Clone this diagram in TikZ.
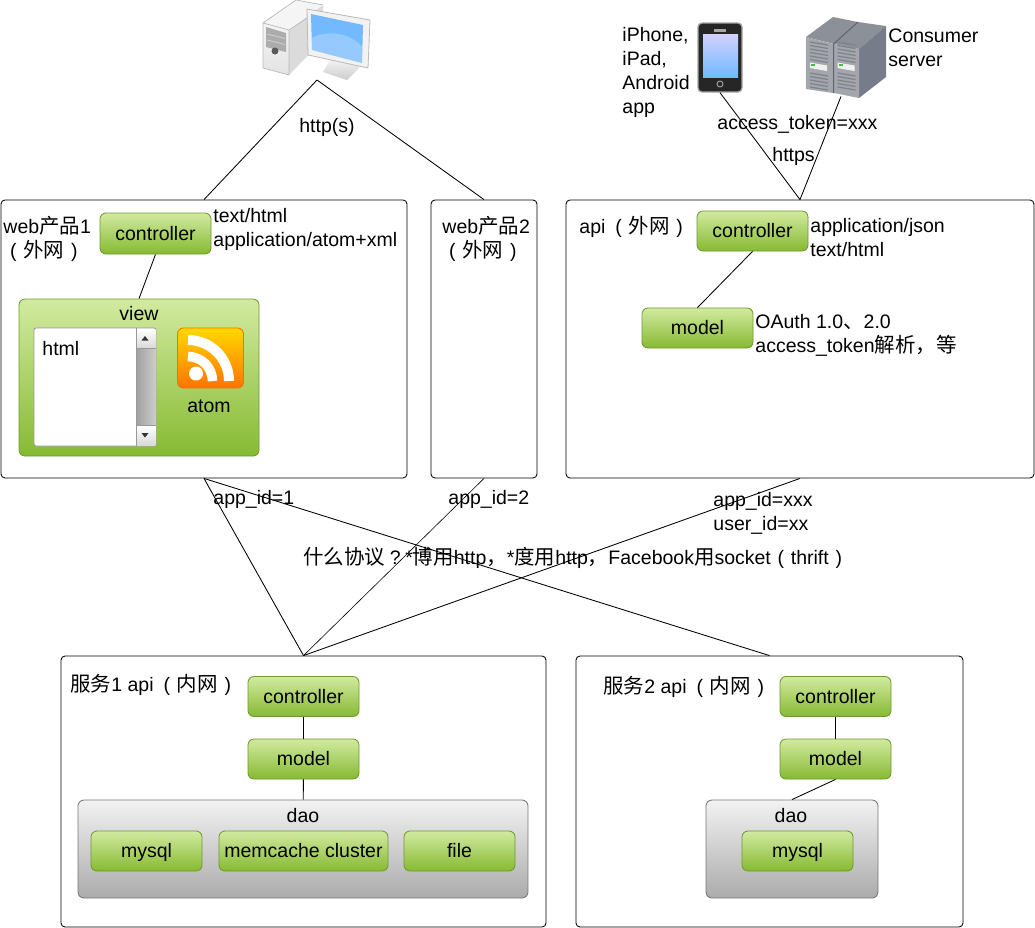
\documentclass[tikz,border=0pt]{standalone}
\usepackage{fontspec}
\setmainfont{Liberation Sans}
\newfontfamily\cjk[Scale=1.05]{Noto Sans CJK SC}
\usepackage{tikz}
\usetikzlibrary{positioning}
\definecolor{greenline}{HTML}{6F9A2E}
\definecolor{greentop}{HTML}{D2EAA0}
\definecolor{greenbot}{HTML}{86BA32}
\definecolor{grayline}{HTML}{777777}
\definecolor{graytop}{HTML}{F2F2F2}
\definecolor{graybot}{HTML}{ABABAB}
\definecolor{rackfront}{HTML}{A3A7AC}
\definecolor{racktop}{HTML}{8B9099}
\definecolor{rackside}{HTML}{767C8A}
\definecolor{rackslat}{HTML}{7D828C}
\newcommand{\lp}{\makebox[20pt][c]{(}}
\newcommand{\rp}{\makebox[20pt][c]{)}}

\begin{document}
\begin{tikzpicture}[x=1pt,y=-1pt,line width=.85pt,
    every node/.style={font=\fontsize{19.5}{24}\selectfont,inner sep=0pt},
    zone/.style={draw,rounded corners=4pt,anchor=center},
    greenbox/.style={draw=greenline,rounded corners=6pt,top color=greentop,bottom color=greenbot,minimum width=111pt,minimum height=40pt,text height=15pt,text depth=2pt},
    daobox/.style={draw=grayline,rounded corners=6pt,top color=graytop,bottom color=graybot,minimum height=98pt},
    lbl/.style={anchor=west,align=left}]
    \useasboundingbox (0,0) rectangle (1035,927);

    % big boxes
    \node[zone,minimum width=406pt,minimum height=278pt] (web1) at (204,339) {};
    \node[zone,minimum width=106pt,minimum height=278pt] (web2) at (484,339) {};
    \node[zone,minimum width=468pt,minimum height=278pt] (api) at (800,339) {};
    \node[zone,minimum width=485pt,minimum height=271pt] (svc1) at (303.5,791.5) {};
    \node[zone,minimum width=387pt,minimum height=271pt] (svc2) at (769.5,791.5) {};

    % web1
    \node[greenbox,minimum height=41pt] (webctrl) at (155.5,233.5) {controller};
    \node[draw=greenline,rounded corners=6pt,top color=greentop,bottom color=greenbot,minimum width=240pt,minimum height=157pt] (view) at (139,377.5) {};
    \node (viewtxt) at (139,314) {view};
    \node[lbl] (webtitle) at (3,239) {web{\cjk 产品}1\\\lp{\cjk 外网}\rp};
    \node[lbl] (webfmt) at (213,229) {text/html\\application/atom+xml};

    % html list with its scroll bar
    \node[draw=gray!80,fill=white,rounded corners=2pt,minimum width=122pt,minimum height=118pt] (htmlbox) at (95,387) {};
    \node[lbl] (htmltxt) at (42,348.5) {html};
    \shade[left color=gray!75,right color=gray!40] (136,348) rectangle (155.5,425);
    \shade[top color=white,bottom color=gray!30] (136,329) rectangle (155.5,348);
    \shade[top color=white,bottom color=gray!30] (136,425) rectangle (155.5,445.5);
    \draw[gray!80] (136,328) -- (136,446) (136,348) -- (156,348) (136,425) -- (156,425);
    \fill[gray!40!black] (145,336) -- (148.5,340.5) -- (141.5,340.5) -- cycle;
    \fill[gray!40!black] (145,437.5) -- (148.5,433) -- (141.5,433) -- cycle;

    % atom feed icon
    \node[draw=orange!85!red,rounded corners=6pt,top color=yellow!70!orange,bottom color=orange!90!red,minimum width=66pt,minimum height=60pt] (feed) at (210.5,358) {};
    \fill[white] (196,373.5) circle (7pt);
    \draw[white,line width=9.5pt] (188,356.5) arc[start angle=90,end angle=0,radius=24.5pt];
    \draw[white,line width=10pt] (188,340) arc[start angle=90,end angle=0,radius=41pt];
    \node (atomtxt) at (209,406.5) {atom};

    % web2 and api
    \node[lbl] (web2title) at (442,239) {web{\cjk 产品}2\\\lp{\cjk 外网}\rp};
    \node[lbl] (apititle) at (579,227) {api\,\lp{\cjk 外网}\rp};
    \node[greenbox] (apictrl) at (752.5,231) {controller};
    \node[greenbox] (apimodel) at (697.5,328) {model};
    \node[lbl] (apifmt) at (810,238) {application/json\\text/html};
    \node[lbl] (apiauth) at (755,335) {OAuth 1.0{\cjk 、}2.0\\access\_token{\cjk 解析，等}};

    % svc1
    \node[lbl] (svc1title) at (70,685) {{\cjk 服务}1 api\,\lp{\cjk 内网}\rp};
    \node[greenbox] (ctrl1) at (303.5,696.5) {controller};
    \node[greenbox] (model1) at (303.5,759) {model};
    \node[daobox,minimum width=450pt] (dao1) at (303,849) {};
    \node (dao1txt) at (303,815.5) {dao};
    \node[greenbox] (mysql1) at (146.5,851) {mysql};
    \node[greenbox,minimum width=169pt] (memcache) at (303.5,851) {memcache cluster};
    \node[greenbox] (file1) at (459.5,851) {file};

    % svc2
    \node[lbl] (svc2title) at (603,687) {{\cjk 服务}2 api\,\lp{\cjk 内网}\rp};
    \node[greenbox] (ctrl2) at (835.5,696.5) {controller};
    \node[greenbox] (model2) at (835.5,759) {model};
    \node[daobox,minimum width=172pt] (dao2) at (792,849) {};
    \node (dao2txt) at (791,815.5) {dao};
    \node[greenbox] (mysql2) at (797.5,851) {mysql};

    % desktop computer
    \fill[gray!28] (263,23) -- (296,0) -- (323,5) -- (323,40) -- (289,75) -- (289,30) -- cycle;
    \fill[gray!8] (263,23) -- (296,0) -- (323,5) -- (289,30) -- cycle;
    \shade[top color=gray!8,bottom color=gray!22] (263,23) -- (289,30) -- (289,75) -- (263,68) -- cycle;
    \draw[gray!55,line width=.7pt] (263,23) -- (296,0) -- (323,5) (289,30) -- (263,23) -- (263,68) -- (289,75) -- (289,30) -- (316,12);
    \fill[gray!65] (266,27) -- (286,33) -- (286,52) -- (266,47) -- cycle;
    \draw[gray!35,line width=.8pt] (267,34) -- (285,38.5) (267,40) -- (285,44.5);
    \fill[gray!70!black] (275,51) circle (3.5pt);
    \shade[top color=gray!10,bottom color=gray!40] (330,60) -- (323,72) -- (347,80) -- (359,68) -- (358,60) -- cycle;
    \draw[gray!55,fill=gray!10,line width=.8pt] (307,9) -- (370,20) -- (368,68) -- (308,55) -- cycle;
    \fill[blue!50!cyan!55] (311,14) -- (363,25) -- (362,63) -- (312,50) -- cycle;
    \fill[white,opacity=.25] (311.7,38) .. controls (325,30) and (350,32) .. (362.4,47) -- (362,63) -- (312,50) -- cycle;
    \coordinate (pcport) at (317,80);

    % phone
    \node[draw=gray!70,line width=1.3pt,fill=black!85,rounded corners=4pt,minimum width=44pt,minimum height=69pt] (phone) at (720,57.5) {};
    \shade[top color=blue!18,bottom color=blue!50!cyan!55] (703,34) rectangle (738,77);
    \fill[gray!70] (714,29) rectangle (726,31.5);
    \draw[gray!70,line width=.9pt] (720,84) circle (3pt);

    % consumer servers
    \node[minimum width=90pt,minimum height=80pt] (server) at (841,56) {};
    \fill[racktop] (806,37) -- (833,17) -- (858,22) -- (886,26) -- (859,49) -- (834,44) -- cycle;
    \fill[rackside] (859,49) -- (886,26) -- (886,77) -- (859,98) -- cycle;
    \fill[rackfront] (806,37) -- (833,44) -- (833,93) -- (806,89) -- cycle;
    \fill[rackfront] (834,44) -- (859,49) -- (859,98) -- (834,93) -- cycle;
    \draw[rackside!80!black,line width=1pt] (833.5,44) -- (858,22) (833.5,44) -- (833.5,93);
    \foreach \s in {0,27.5} {
        \foreach \y in {42,45.5,49,52.5,56,59.5,73,76.5,80,83.5,87} {
            \draw[rackslat,line width=1.2pt] (810+\s,\y) -- (828+\s,\y+3);
        }
        \fill[gray!12] (810+\s,62.5) -- (827+\s,65.5) -- (827+\s,71) -- (810+\s,68) -- cycle;
        \fill[green!50!gray] (811+\s,63.5) rectangle (815+\s,66);
    }

    % top labels
    \node[lbl] (devices) at (622,72) {iPhone,\\iPad,\\Android\\app};
    \node[lbl] (consumer) at (888,48) {Consumer\\server};
    \node (httpstxt) at (327,127) {http(s)};
    \node[lbl] (tokentxt) at (717,124) {access\_token=xxx};
    \node[lbl] (httpsapi) at (772,156) {https};

    % bottom labels
    \node[lbl] (appid1) at (213,499) {app\_id=1};
    \node[lbl] (appid2) at (448,499) {app\_id=2};
    \node[lbl] (appidx) at (713,513) {app\_id=xxx\\user\_id=xx};
    \node[lbl] (protocol) at (303,558) {{\cjk 什么协议}\makebox[20pt][c]{?}*{\cjk 博用}http{\cjk ，}*{\cjk 度用}http{\cjk ，}Facebook{\cjk 用}socket\lp thrift\rp};

    % connectors
    \draw (pcport) -- (web1.north);
    \draw (pcport) -- (web2.north);
    \draw (phone.south) -- (api.north);
    \draw (server.south) -- (api.north);
    \draw (web1.south) -- (svc1.north);
    \draw (web1.south) -- (svc2.north);
    \draw[line width=.6pt] (web2.south) -- (svc1.north);
    \draw (api.south) -- (svc1.north);
    \draw (webctrl.south) -- (view.north);
    \draw (apictrl.south) -- (apimodel.north);
    \draw (ctrl1) -- (model1);
    \draw (model1) -- (dao1);
    \draw (ctrl2) -- (model2);
    \draw (model2.south) -- (dao2.north);
\end{tikzpicture}
\end{document}
